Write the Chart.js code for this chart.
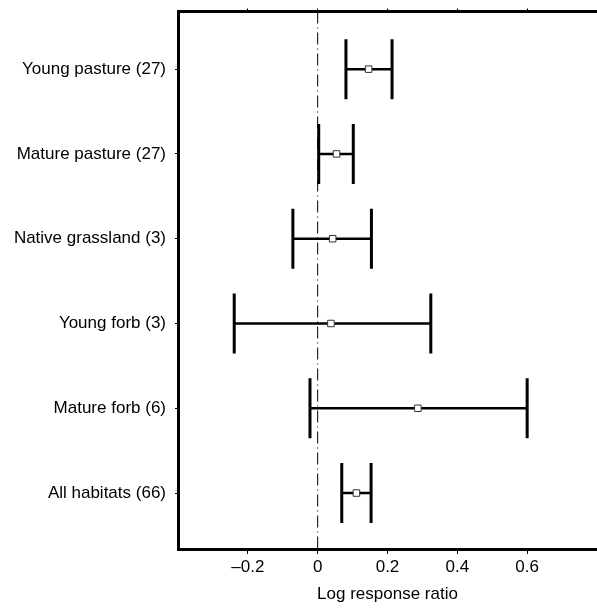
<!DOCTYPE html>
<html>
<head>
<meta charset="utf-8">
<script src="https://cdn.jsdelivr.net/npm/chart.js@4/dist/chart.umd.min.js"></script>
<style>
html,body{margin:0;padding:0;background:#fff;}
#wrap{width:597px;height:608px;position:relative;}
</style>
</head>
<body>
<div id="wrap"><canvas id="c"></canvas></div>
<script>
const categories = ['Young pasture (27)', 'Mature pasture (27)', 'Native grassland (3)', 'Young forb (3)', 'Mature forb (6)', 'All habitats (66)'];
const means = [0.146, 0.054, 0.043, 0.038, 0.287, 0.111];
const lower = [0.081, 0.003, -0.071, -0.239, -0.022, 0.069];
const upper = [0.213, 0.102, 0.154, 0.324, 0.600, 0.153];
const xTicks = [-0.2, 0, 0.2, 0.4, 0.6];
const xMin = -0.4, xMax = 0.8;
const yMin = -0.68, yMax = 5.66;

const FONT = "'Liberation Sans', Arial, sans-serif";

const datasets = [];
datasets.push({
  type: 'scatter',
  data: means.map((m, i) => ({x: m, y: i})),
  pointStyle: 'rect',
  pointRadius: 4.6,
  pointBorderWidth: 1,
  pointBorderColor: '#333',
  pointBackgroundColor: '#fff',
  order: 0
});
categories.forEach((c, i) => {
  datasets.push({
    type: 'line',
    data: [{x: lower[i], y: i}, {x: upper[i], y: i}],
    borderColor: '#000',
    borderWidth: 2.5,
    pointStyle: 'line',
    pointRotation: 90,
    pointRadius: 30,
    pointBorderWidth: 3,
    pointBorderColor: '#000',
    order: 1
  });
});
datasets.push({
  type: 'line',
  data: [{x: 0, y: yMin}, {x: 0, y: yMax}],
  borderColor: '#000',
  borderWidth: 1,
  borderDash: [12, 4, 1, 4],
  pointRadius: 0,
  order: 2
});

const fmt = v => {
  if (Math.abs(v) < 1e-9) return '0';
  const s = Math.abs(v).toFixed(1);
  return v < 0 ? '\u2013' + s : s;
};

new Chart(document.getElementById('c'), {
  type: 'scatter',
  data: {datasets},
  options: {
    responsive: true,
    maintainAspectRatio: false,
    animation: false,
    layout: {autoPadding: false, padding: {left: 0, right: 0, top: 0, bottom: 0}},
    plugins: {legend: {display: false}, tooltip: {enabled: false}},
    scales: {
      x: {
        type: 'linear',
        position: 'bottom',
        min: xMin, max: xMax,
        afterBuildTicks: s => { s.ticks = xTicks.map(v => ({value: v})); },
        afterFit: s => { s.height = 59; s.paddingLeft = 0; s.paddingRight = 0; },
        ticks: {
          callback: v => fmt(v),
          color: '#000',
          font: {family: FONT, size: 17},
          padding: 3,
          maxRotation: 0
        },
        grid: {drawOnChartArea: false, tickLength: 5, color: '#000', lineWidth: 1},
        border: {display: true, color: '#000', width: 3},
        title: {
          display: true,
          text: 'Log response ratio',
          color: '#000',
          font: {family: FONT, size: 17},
          padding: {top: 4, bottom: 3}
        }
      },
      x2: {
        type: 'linear',
        position: 'top',
        min: xMin, max: xMax,
        afterBuildTicks: s => { s.ticks = xTicks.map(v => ({value: v})); },
        afterFit: s => { s.height = 11.5; s.paddingLeft = 0; s.paddingRight = 0; },
        ticks: {display: false},
        grid: {drawOnChartArea: false, tickLength: 3, color: '#000', lineWidth: 1},
        border: {display: true, color: '#000', width: 3}
      },
      y: {
        type: 'linear',
        reverse: true,
        min: yMin, max: yMax,
        afterBuildTicks: s => { s.ticks = categories.map((c, i) => ({value: i})); },
        afterFit: s => { s.width = 178; s.paddingTop = 0; s.paddingBottom = 0; },
        ticks: {
          callback: v => categories[Math.round(v)],
          color: '#000',
          font: {family: FONT, size: 17},
          padding: 9
        },
        grid: {drawOnChartArea: false, tickLength: 3, color: '#000', lineWidth: 1},
        border: {display: true, color: '#000', width: 3}
      }
    }
  }
});
</script>
</body>
</html>
